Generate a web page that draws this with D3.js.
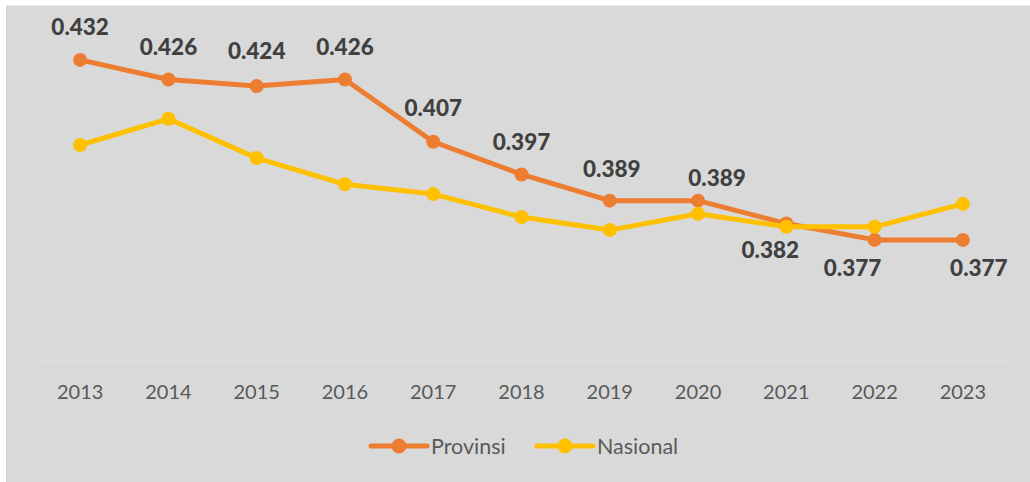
<!DOCTYPE html>
<html>
<head>
<meta charset="utf-8">
<script src="https://cdn.jsdelivr.net/npm/d3@7"></script>
<style>
    html, body { margin: 0; padding: 0; background: #fff; }
    svg { display: block; }
</style>
</head>
<body>
<div id="chart"></div>
<script>
// Chart data
const years = ['2013', '2014', '2015', '2016', '2017', '2018', '2019', '2020', '2021', '2022', '2023'];
const provinsi = [0.432, 0.426, 0.424, 0.426, 0.407, 0.397, 0.389, 0.389, 0.382, 0.377, 0.377];
const nasional = [0.406, 0.414, 0.402, 0.394, 0.391, 0.384, 0.380, 0.385, 0.381, 0.381, 0.388];
const seriesNames = ['Provinsi', 'Nasional'];

// Label nudges (pixels) for the Provinsi values, like the hand placed labels
const labelDx = [0, 0, 0, 0, 0, 0, 2, 19, -16, -22, 16];
const labelDy = [-33, -33, -35, -33, -34, -33, -32, -23, 26, 28, 28];

const width = 1030;
const height = 482;
const colors = { Provinsi: '#ed7d31', Nasional: '#ffc000' };

const svg = d3.select('#chart').append('svg')
    .attr('width', width)
    .attr('height', height);

// Grey chart area with its thin border
svg.append('rect')
    .attr('x', 7).attr('y', 6)
    .attr('width', width - 7).attr('height', height - 6)
    .attr('fill', '#d9d9d9');
svg.append('line')
    .attr('x1', 6.5).attr('x2', 6.5).attr('y1', 6).attr('y2', height)
    .attr('stroke', '#c9d5ea');
svg.append('line')
    .attr('x1', 7).attr('x2', width).attr('y1', 5.5).attr('y2', 5.5)
    .attr('stroke', '#ececf0');

// Scales
const x = d3.scaleBand().domain(years).range([36, 1007]);
const y = d3.scaleLinear().domain([0.34, 0.45]).range([361, 1]);
const cx = d => x(d) + x.bandwidth() / 2;

// Faint baseline
svg.append('line')
    .attr('x1', 36).attr('x2', 1007)
    .attr('y1', y(0.34) + 0.5).attr('y2', y(0.34) + 0.5)
    .attr('stroke', '#e3e3e3');

// Category axis
const xAxis = svg.append('g')
    .attr('transform', `translate(0, ${y(0.34)})`)
    .call(d3.axisBottom(x).tickSize(0).tickPadding(24));
xAxis.select('.domain').remove();
xAxis.selectAll('text')
    .attr('font-family', 'Lato, sans-serif')
    .attr('font-size', 20)
    .attr('fill', '#595959');

// Lines and markers (Nasional drawn on top)
const line = d3.line().x((d, i) => cx(years[i])).y(d => y(d));
[['Provinsi', provinsi], ['Nasional', nasional]].forEach(([name, values]) => {
    svg.append('path')
        .datum(values)
        .attr('d', line)
        .attr('fill', 'none')
        .attr('stroke', colors[name])
        .attr('stroke-width', 5)
        .attr('stroke-linejoin', 'round');
    svg.selectAll('circle.' + name)
        .data(values)
        .enter()
        .append('circle')
        .attr('class', name)
        .attr('cx', (d, i) => cx(years[i]))
        .attr('cy', d => y(d))
        .attr('r', 7)
        .attr('fill', colors[name]);
});

// Value labels for Provinsi
svg.selectAll('text.value')
    .data(provinsi)
    .enter()
    .append('text')
    .attr('class', 'value')
    .attr('x', (d, i) => cx(years[i]) + labelDx[i])
    .attr('y', (d, i) => y(d) + labelDy[i])
    .attr('dy', '0.36em')
    .attr('text-anchor', 'middle')
    .attr('font-family', 'Lato, sans-serif')
    .attr('font-weight', 900)
    .attr('font-size', 22.5)
    .attr('fill', '#404040')
    .text(d => d3.format('.3f')(d));

// Legend
const legend = svg.append('g').attr('transform', 'translate(371, 446)');
const legendX = [0, 166];
seriesNames.forEach((name, i) => {
    const g = legend.append('g').attr('transform', `translate(${legendX[i]}, 0)`);
    g.append('line')
        .attr('x1', 0).attr('x2', 56)
        .attr('stroke', colors[name])
        .attr('stroke-width', 5)
        .attr('stroke-linecap', 'round');
    g.append('circle').attr('cx', 28).attr('r', 7.5).attr('fill', colors[name]);
    g.append('text')
        .attr('x', 60)
        .attr('dy', '0.36em')
        .attr('font-family', 'Lato, sans-serif')
        .attr('font-size', 21.5)
        .attr('fill', '#595959')
        .text(name);
});
</script>
</body>
</html>
